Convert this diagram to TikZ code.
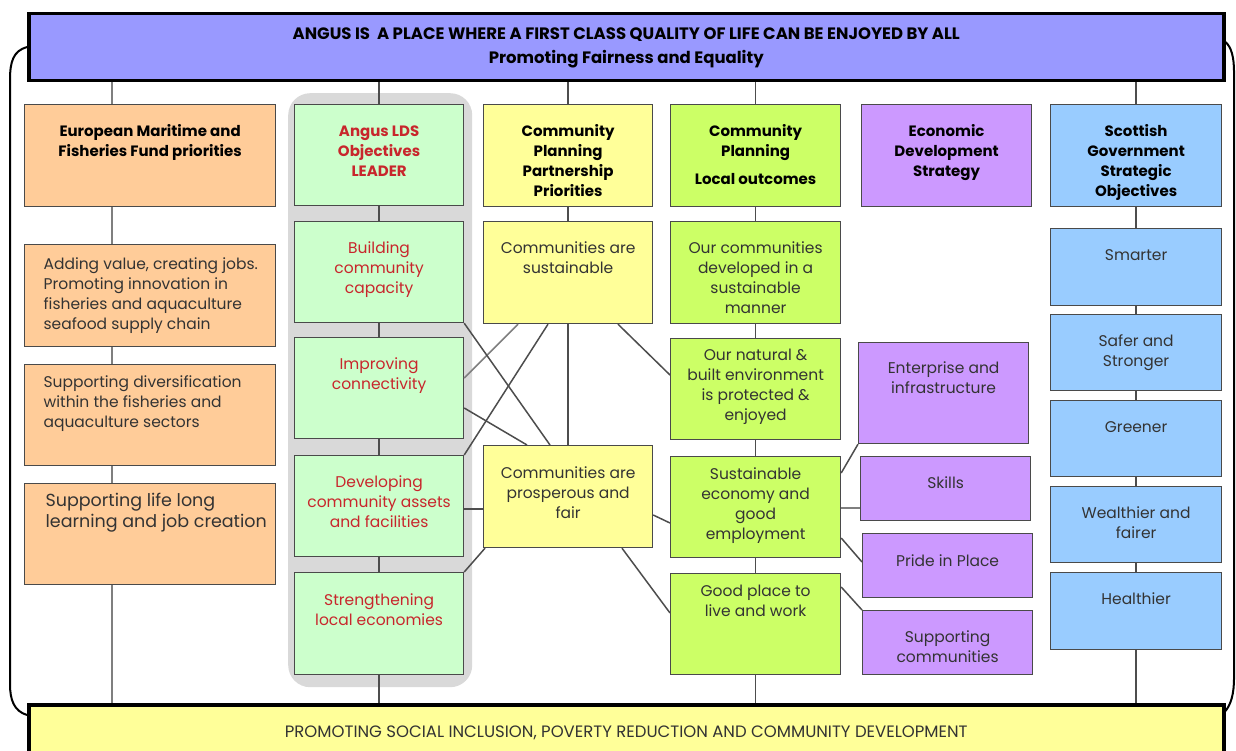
\documentclass[tikz,border=0pt]{standalone}
\usepackage{fontspec}
\setmainfont{Poppins}
\usetikzlibrary{calc}
\definecolor{topc}{HTML}{9999FF}
\definecolor{botc}{HTML}{FFFF99}
\definecolor{orc}{HTML}{FFCC99}
\definecolor{grc}{HTML}{CCFFCC}
\definecolor{yec}{HTML}{FFFF99}
\definecolor{lic}{HTML}{CCFF66}
\definecolor{puc}{HTML}{CC99FF}
\definecolor{blc}{HTML}{99CCFF}
\definecolor{ldsbg}{HTML}{D9D9D9}
\definecolor{edge}{HTML}{4A4A4A}
\definecolor{txt}{HTML}{333333}
\definecolor{ldsred}{HTML}{C8262C}
\definecolor{connc}{HTML}{4D4D4D}
\definecolor{connl}{HTML}{7F7F7F}
\newcommand{\bx}[8]{\node[box,fill=#2,#8] (#1) at (#3,#4) {\parbox[c][#6pt][t]{#5pt}{#7}};}
\newcommand{\ct}[2]{\centering\rule{0pt}{#1pt}#2}
\newcommand{\lt}[3]{\raggedright\leftskip=#1pt\relax\rule{0pt}{#2pt}#3}
\begin{document}
\begin{tikzpicture}[x=1pt,y=-1pt,
  box/.style={draw=edge, line width=1.2pt, inner sep=0pt, anchor=north west, text=txt, font=\fontsize{15.5}{20}\selectfont},
  hdr/.style={font=\bfseries\fontsize{15}{20}\selectfont, text=black},
  lds/.style={text=ldsred},
  conn/.style={draw=connc, line width=1.5pt},
  connlight/.style={draw=connl, line width=1.5pt},
  banner/.style={draw=black, line width=3.5pt, inner sep=0pt, anchor=north west},
  bracket/.style={draw=black, line width=2pt}]
\useasboundingbox (0,0) rectangle (1236,751);
\node[fill=ldsbg, rounded corners=22pt, minimum width=184pt, minimum height=594pt, anchor=north west, inner sep=0pt] (ldsback) at (288,93) {};

% banners
\node[banner, fill=topc] (top) at (27,12) {\parbox[c][67pt][t]{1195pt}{\centering\bfseries\fontsize{16.5}{24}\selectfont\rule{0pt}{26pt}ANGUS IS~ A PLACE WHERE A FIRST CLASS QUALITY OF LIFE CAN BE ENJOYED BY ALL\\Promoting Fairness and Equality}};
\node[banner, fill=botc] (bot) at (27,703) {\parbox[c][55pt][t]{1195pt}{\centering\fontsize{16.5}{20}\selectfont\color{txt}\rule{0pt}{33pt}PROMOTING SOCIAL INCLUSION, POVERTY REDUCTION AND COMMUNITY DEVELOPMENT}};

% column 1
\bx{c1h}{orc}{24}{104}{251}{102}{\ct{32}{European Maritime and\\Fisheries Fund priorities}}{hdr}
\bx{c1a}{orc}{24}{244}{251}{102}{\lt{19}{25}{Adding value, creating jobs.\\Promoting innovation in\\fisheries and aquaculture\\seafood supply chain}}{}
\bx{c1b}{orc}{24}{364}{251}{101}{\lt{19}{23}{Supporting diversification\\within the fisheries and\\aquaculture sectors}}{}
\bx{c1c}{orc}{24}{483}{251}{101}{\lt{21}{23}{Supporting life long\\learning and job creation}}{font=\fontsize{17.5}{21}\selectfont}

% column 2 (LDS)
\bx{ldsh}{grc}{294}{104}{169}{101}{\ct{32}{Angus LDS\\Objectives\\LEADER}}{hdr,lds}
\bx{build}{grc}{294}{221}{169}{101}{\ct{32}{Building\\community\\capacity}}{lds}
\bx{impr}{grc}{294}{337}{169}{101}{\ct{32}{Improving\\connectivity}}{lds}
\bx{dev}{grc}{294}{455}{169}{101}{\ct{32}{Developing\\community assets\\and facilities}}{lds}
\bx{str}{grc}{294}{572}{169}{102}{\ct{33}{Strengthening\\local economies}}{lds}

% column 3
\bx{cpph}{yec}{483}{104}{169}{102}{\ct{32}{Community\\Planning\\Partnership\\Priorities}}{hdr}
\bx{sust}{yec}{483}{221}{169}{102}{\ct{32}{Communities are\\sustainable}}{}
\bx{pros}{yec}{483}{445}{169}{102}{\ct{33}{Communities are\\prosperous and\\fair}}{}

% column 4
\bx{cph}{lic}{670}{104}{170}{102}{\ct{32}{Community\\Planning\\[8pt]Local outcomes}}{hdr}
\bx{ourc}{lic}{670}{221}{170}{102}{\ct{32}{Our communities\\developed in a\\sustainable\\manner}}{}
\bx{nat}{lic}{670}{338}{170}{101}{\ct{22}{Our natural \&\\built environment\\is protected \&\\enjoyed}}{}
\bx{econ}{lic}{670}{456}{170}{101}{\ct{23}{Sustainable\\economy and\\good\\employment}}{}
\bx{good}{lic}{670}{573}{170}{101}{\ct{23}{Good place to\\live and work}}{}

% column 5
\bx{edsh}{puc}{861}{104}{170}{102}{\ct{32}{Economic\\Development\\Strategy}}{hdr}
\bx{ent}{puc}{858}{342}{170}{101}{\ct{31}{Enterprise and\\infrastructure}}{}
\bx{skills}{puc}{860}{456}{170}{64}{\ct{32}{Skills}}{}
\bx{pride}{puc}{862}{533}{170}{64}{\ct{33}{Pride in Place}}{}
\bx{supp}{puc}{862}{610}{170}{64}{\ct{32}{Supporting\\communities}}{}

% column 6
\bx{sgh}{blc}{1050}{104}{171}{102}{\ct{32}{Scottish\\Government\\Strategic\\Objectives}}{hdr}
\bx{smart}{blc}{1050}{228}{171}{77}{\ct{32}{Smarter}}{}
\bx{safer}{blc}{1050}{314}{171}{76}{\ct{32}{Safer and\\Stronger}}{}
\bx{green}{blc}{1050}{400}{171}{76}{\ct{32}{Greener}}{}
\bx{wealth}{blc}{1050}{486}{171}{76}{\ct{32}{Wealthier and\\fairer}}{}
\bx{health}{blc}{1050}{572}{171}{77}{\ct{32}{Healthier}}{}

% vertical connectors
\coordinate (xa) at (112,0);
\draw[connlight] (top.south -| xa) -- (c1h.north -| xa);
\draw[connlight] (c1h.south -| xa) -- (c1a.north -| xa);
\draw[connlight] (c1a.south -| xa) -- (c1b.north -| xa);
\draw[connlight] (c1b.south -| xa) -- (c1c.north -| xa);
\draw[connlight] (c1c.south -| xa) -- (bot.north -| xa);

\draw[conn] (top.south -| ldsh.north) -- (ldsh.north);
\draw[conn] (ldsh.south) -- (build.north);
\draw[conn] (build.south) -- (impr.north);
\draw[conn] (impr.south) -- (dev.north);
\draw[conn] (dev.south) -- (str.north);
\draw[conn] (str.south) -- (bot.north -| str.south);

\draw[conn] (top.south -| cpph.north) -- (cpph.north);
\draw[conn] (cpph.south) -- (sust.north);
\draw[conn] (sust.south) -- (pros.north);

\draw[conn] (top.south -| cph.north) -- (cph.north);
\draw[conn] (cph.south) -- (ourc.north);
\draw[conn] (ourc.south) -- (nat.north);
\draw[conn] (nat.south) -- (econ.north);
\draw[conn] (econ.south) -- (good.north);
\draw[conn] (good.south) -- (bot.north -| good.south);

\draw[conn] (top.south -| sgh.north) -- (sgh.north);
\draw[conn] (sgh.south) -- (smart.north);
\draw[conn] (smart.south) -- (safer.north);
\draw[conn] (safer.south) -- (green.north);
\draw[conn] (green.south) -- (wealth.north);
\draw[conn] (wealth.south) -- (health.north);
\draw[conn] (health.south) -- (bot.north -| health.south);

% diagonal connectors
\draw[connlight] ($(sust.south west)+(35,0)$) -- ($(impr.north east)+(0,41)$);
\draw[conn] ($(sust.south west)+(65,0)$) -- (dev.north east);
\draw[conn] (build.south east) -- ($(pros.north west)+(67,0)$);
\draw[conn] ($(impr.north east)+(0,71)$) -- ($(pros.north west)+(44,0)$);
\draw[conn] ($(sust.south west)+(135,0)$) -- ($(nat.north west)+(0,37)$);
\draw[conn] ($(dev.north east)+(0,54)$) -- ($(pros.north west)+(0,64)$);
\draw[conn] ($(pros.south west)+(2,0)$) -- (str.north east);
\draw[conn] ($(pros.north east)+(0,70)$) -- ($(econ.north west)+(0,67)$);
\draw[conn] ($(pros.south west)+(139,0)$) -- ($(good.north west)+(0,40)$);
\draw[conn] ($(econ.north east)+(0,17)$) -- (ent.south west);
\draw[connlight] ($(econ.north east)+(0,52)$) -- ($(skills.north west)+(0,52)$);
\draw[conn] ($(econ.north east)+(0,82)$) -- ($(pride.north west)+(0,29)$);
\draw[conn] ($(good.north east)+(0,14)$) -- (supp.north west);

% brackets
\draw[bracket] ($(top.north west)+(0,35)$) .. controls (13,51) and (10,62) .. (10,80) -- (10,684) .. controls (10,700) and (14,711) .. ($(bot.north west)+(0,12)$);
\draw[bracket] ($(top.north east)+(0,30)$) .. controls (1231,47) and (1234,56) .. (1234,72) -- (1234,678) .. controls (1234,694) and (1231,704) .. ($(bot.north east)+(0,8)$);
\end{tikzpicture}
\end{document}
